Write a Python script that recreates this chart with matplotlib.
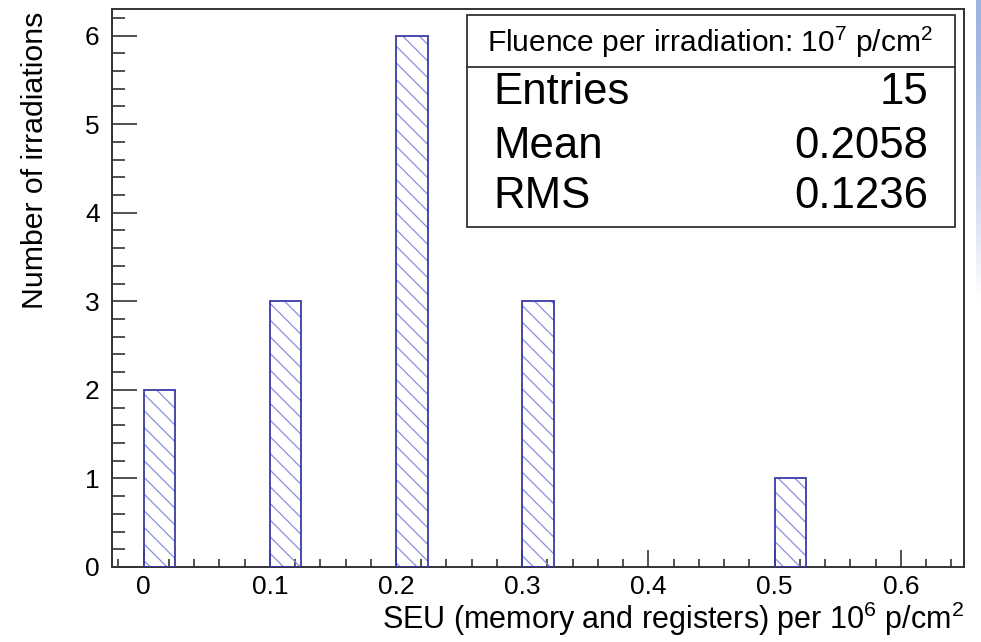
import numpy as np
import matplotlib.pyplot as plt
from matplotlib.patches import Rectangle
from matplotlib.lines import Line2D
from matplotlib.ticker import MultipleLocator

plt.rcParams["font.family"] = ["Liberation Sans", "DejaVu Sans"]
plt.rcParams["mathtext.fontset"] = "custom"
plt.rcParams["mathtext.rm"] = "Liberation Sans"
plt.rcParams["hatch.linewidth"] = 0.9

# histogram contents (only non-empty bins)
bin_width = 0.025
bin_low = [0.0, 0.1, 0.2, 0.3, 0.5]
counts = [2, 3, 6, 3, 1]

x_range = (-0.025, 0.65)
y_max = 6.3
x_major = [0.0, 0.1, 0.2, 0.3, 0.4, 0.5, 0.6]
x_ticklabels = ["0", "0.1", "0.2", "0.3", "0.4", "0.5", "0.6"]
y_major = [0, 1, 2, 3, 4, 5, 6]

stats_title = r"Fluence per irradiation: 10$^{7}$ p/cm$^{2}$"
x_title = r"SEU (memory and registers) per 10$^{6}$ p/cm$^{2}$"
y_title = "Number of irradiations"

centers = np.array(bin_low) + bin_width / 2
n_entries = int(np.sum(counts))
mean = np.average(centers, weights=counts)
rms = np.sqrt(np.average((centers - mean) ** 2, weights=counts))

W, H = 981, 642
fig = plt.figure(figsize=(W / 100, H / 100), dpi=100)
ax = fig.add_axes([112 / W, 1 - 567 / H, (964 - 112) / W, (567 - 9) / H])

# hatch fill in light blue, then the outline in darker blue on top
ax.bar(bin_low, counts, width=bin_width, align="edge", fill=False,
       hatch="\\\\", edgecolor="#8c8ce0", linewidth=0, zorder=2)
ax.bar(bin_low, counts, width=bin_width, align="edge", fill=False,
       edgecolor="#3a3aa8", linewidth=1.3, zorder=3)

ax.set_xlim(*x_range)
ax.set_ylim(0, y_max)
ax.set_xticks(x_major)
ax.set_xticklabels(x_ticklabels)
ax.set_yticks(y_major)
ax.xaxis.set_minor_locator(MultipleLocator(0.02))
ax.yaxis.set_minor_locator(MultipleLocator(0.2))
ax.tick_params(axis="both", which="both", direction="in", color="#333333",
               width=1.2, labelsize=19)
ax.tick_params(axis="x", which="major", length=12.5, pad=6)
ax.tick_params(axis="x", which="minor", length=6)
ax.tick_params(axis="y", which="major", length=18, pad=9)
ax.tick_params(axis="y", which="minor", length=9.5)
for s in ax.spines.values():
    s.set_linewidth(1.4)
    s.set_color("#333333")

fig.text(964 / W, 1 - 629 / H, x_title, ha="right", va="baseline", fontsize=22)
fig.text(35 / W, 1 - 12 / H, y_title, ha="center", va="top", rotation=90,
         fontsize=21.8)

# stats box
bx0, bx1, by0, by1, bdiv = 467, 955, 15, 227, 67
fig.add_artist(Rectangle((bx0 / W, 1 - by1 / H), (bx1 - bx0) / W,
                         (by1 - by0) / H, transform=fig.transFigure,
                         facecolor="white", edgecolor="#333333", lw=1.3))
fig.add_artist(Line2D([bx0 / W, bx1 / W], [1 - bdiv / H, 1 - bdiv / H],
                      transform=fig.transFigure, color="#333333", lw=1.3))
fig.text(710 / W, 1 - 42 / H, stats_title, ha="center",
         va="center", fontsize=21.5)
rows = [("Entries", f"{n_entries}", 92), ("Mean", f"{mean:.4f}", 147),
        ("RMS", f"{rms:.4f}", 196)]
for name, val, yc in rows:
    fig.text(493 / W, 1 - yc / H, name, ha="left", va="center", fontsize=31.5)
    fig.text(928 / W, 1 - yc / H, val, ha="right", va="center", fontsize=31.5)

# pale blue strip along the right edge
strip = fig.add_axes([976 / W, 1 - 300 / H, 5 / W, 300 / H])
grad = np.linspace(0, 1, 100).reshape(-1, 1)
top = np.array([0.62, 0.70, 0.88])
rgb = top + (1 - top) * grad[..., None] ** 1.5
strip.imshow(rgb, aspect="auto", interpolation="bilinear")
strip.axis("off")

fig.savefig("out.png", dpi=100)
